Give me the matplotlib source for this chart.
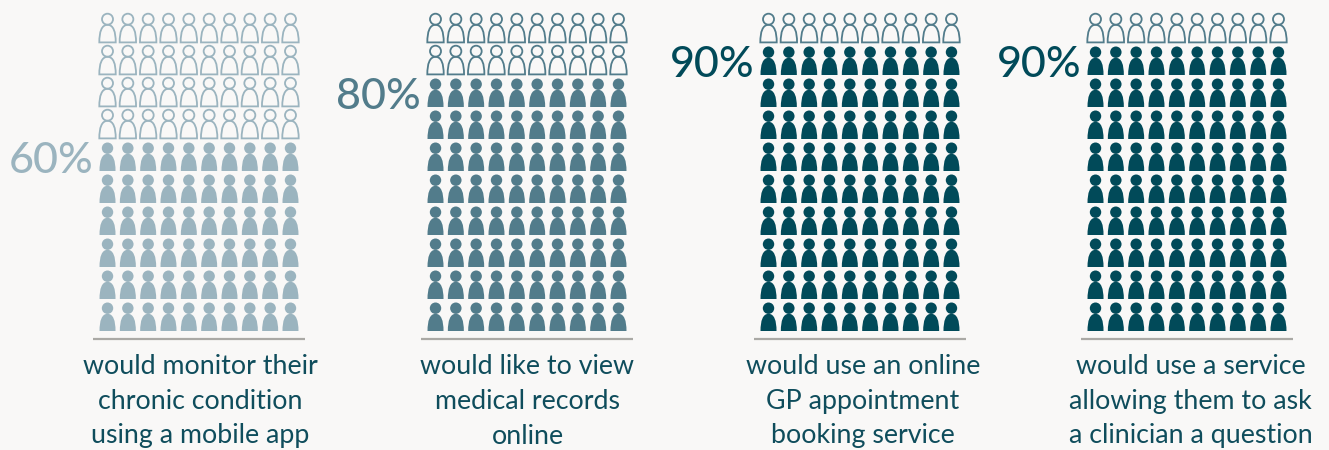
import matplotlib
matplotlib.use('Agg')
import matplotlib.pyplot as plt
from matplotlib.patches import Circle, PathPatch
from matplotlib.path import Path

# Values
percents = [60, 80, 90, 90]
captions = [
    'would monitor their\nchronic condition\nusing a mobile app',
    'would like to view\nmedical records\nonline',
    'would use an online\nGP appointment\nbooking service',
    'would use a service\nallowing them to ask\na clinician a question',
]
fill_colors = ['#9bb4bf', '#527c8b', '#014a59', '#014a59']
outline_colors = ['#9bb4bf', '#527c8b', '#527c8b', '#527c8b']
text_color = '#0f4d5c'
background = '#f9f8f7'

# Layout, in pixels of the 1329x450 picture
centers = [199, 527, 860, 1187]
caption_centers = [200, 527.5, 863, 1190.5]
n_cols = 10
n_rows = 10
col_step = 20.33
row_step = 32
bottom_y = 331


def body_path(cx, base, half_w, height):
    top = base - height
    # rounded dome with nearly vertical sides
    verts = [
        (cx - half_w, base),
        (cx - half_w, base - height * 0.6),
        (cx - half_w * 0.72, top),
        (cx, top),
        (cx + half_w * 0.72, top),
        (cx + half_w, base - height * 0.6),
        (cx + half_w, base),
        (cx - half_w, base),
    ]
    codes = [Path.MOVETO, Path.CURVE4, Path.CURVE4, Path.CURVE4,
             Path.CURVE4, Path.CURVE4, Path.CURVE4, Path.CLOSEPOLY]
    return Path(verts, codes)


def draw_person(ax, cx, base, color, filled):
    if filled:
        ax.add_patch(Circle((cx, base - 22.8), 5.7, fc=color, ec='none'))
        ax.add_patch(PathPatch(body_path(cx, base, 8, 17.2), fc=color, ec='none'))
    else:
        ax.add_patch(Circle((cx, base - 23.8), 5.5, fc='none', ec=color, lw=1.3))
        ax.add_patch(PathPatch(body_path(cx, base - 0.6, 8.2, 17.6), fc='none', ec=color, lw=1.3))


fig = plt.figure(figsize=(13.29, 4.5), dpi=100, facecolor=background)
ax = fig.add_axes([0, 0, 1, 1])
ax.set_xlim(0, 1329)
ax.set_ylim(450, 0)
ax.axis('off')

font = ['Lato', 'DejaVu Sans']

for i, pct in enumerate(percents):
    left = centers[i] - col_step * (n_cols - 1) / 2
    filled_rows = pct // 10
    for r in range(n_rows):
        base = bottom_y - r * row_step
        for c in range(n_cols):
            cx = left + c * col_step
            draw_person(ax, cx, base, fill_colors[i] if r < filled_rows else outline_colors[i], r < filled_rows)

    # percent label sits next to the top filled row
    ax.text(left - 14.5, bottom_y - (filled_rows - 1) * row_step - 10, f'{pct}%', ha='right', va='center',
            fontsize=31, color=fill_colors[i], family=font, weight='medium')

    ax.plot([centers[i] - 106, centers[i] + 106], [339, 339], color='#aaa9a5', lw=1.6, solid_capstyle='butt')

    for j, line in enumerate(captions[i].split('\n')):
        ax.text(caption_centers[i], 367 + j * 34.5, line, ha='center', va='center',
                fontsize=19.3, color=text_color, family=font)

fig.savefig('out.png', dpi=100, facecolor=background)
